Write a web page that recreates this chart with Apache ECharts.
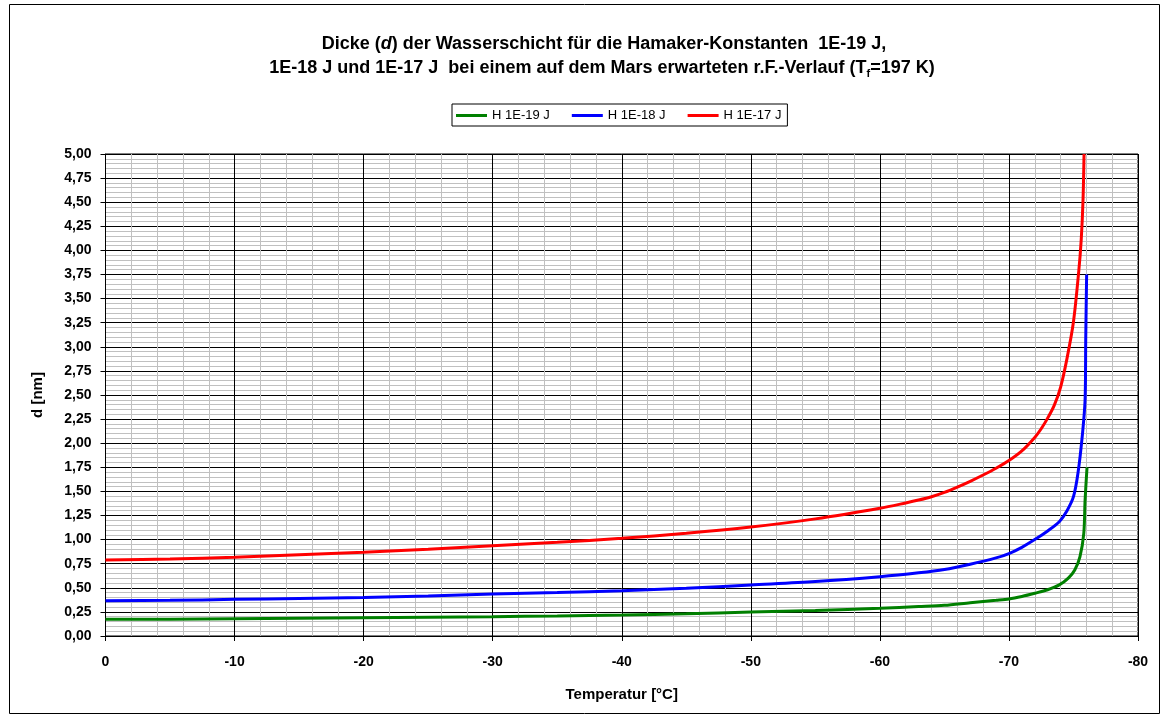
<!DOCTYPE html>
<html>
<head>
<meta charset="utf-8">
<script src="https://cdn.jsdelivr.net/npm/echarts@6/dist/echarts.min.js"></script>
<style>html,body{margin:0;padding:0;background:#fff;}#c{width:1164px;height:718px;}</style>
</head>
<body>
<div id="c"></div>
<script>
// ---- data ----
const seriesNames = ['H 1E-19 J', 'H 1E-18 J', 'H 1E-17 J'];
const tempGreen = [0,-5,-10,-15,-20,-25,-30,-35,-40,-45,-50,-55,-60,-63,-65,-67,-69,-70,-71,-72,-73,-73.9,-74.6,-75.1,-75.5,-75.8,-75.9,-76.05];
const dGreen    = [0.173,0.175,0.18,0.185,0.19,0.195,0.20,0.208,0.218,0.23,0.248,0.265,0.287,0.305,0.318,0.345,0.37,0.384,0.41,0.443,0.48,0.53,0.60,0.685,0.82,1.065,1.41,1.75];
const tempBlue  = [0,-5,-10,-15,-20,-25,-30,-35,-40,-45,-50,-55,-60,-63,-65,-67,-69,-70,-71,-72,-73,-73.9,-74.5,-75.0,-75.35,-75.7,-75.9,-75.95,-76.02];
const dBlue     = [0.365,0.37,0.38,0.39,0.40,0.415,0.435,0.45,0.47,0.495,0.53,0.565,0.615,0.655,0.69,0.745,0.81,0.855,0.92,1.0,1.09,1.186,1.30,1.445,1.69,2.1,2.45,3.07,3.75];
const tempRed   = [0,-5,-10,-15,-20,-25,-30,-35,-40,-45,-50,-55,-60,-62,-63,-64,-65,-66,-67,-68,-69,-70,-71,-72,-72.5,-73,-73.5,-74.0,-74.5,-75.0,-75.4,-75.6,-75.74,-75.82];
const dRed      = [0.788,0.80,0.816,0.843,0.87,0.90,0.935,0.972,1.013,1.065,1.13,1.215,1.325,1.38,1.41,1.445,1.49,1.545,1.605,1.67,1.74,1.82,1.92,2.06,2.15,2.26,2.39,2.58,2.88,3.26,3.77,4.11,4.52,5.0];
const xTicks = [0,-10,-20,-30,-40,-50,-60,-70,-80];
const colors = ['#008000', '#0000ff', '#ff0000'];

const zip = (xs, ys) => xs.map((x, i) => [x, ys[i]]);
const seriesData = [zip(tempGreen, dGreen), zip(tempBlue, dBlue), zip(tempRed, dRed)];

const chart = echarts.init(document.getElementById('c'), null, {renderer: 'canvas'});
const font = 'Arial, "Liberation Sans", sans-serif';
const rich = {
  a: {fontFamily: font, fontWeight: 'bold', fontSize: 18, color: '#000'},
  i: {fontFamily: font, fontWeight: 'bold', fontStyle: 'italic', fontSize: 18, color: '#000'},
  s: {fontFamily: font, fontWeight: 'bold', fontSize: 11, color: '#000', verticalAlign: 'bottom', padding: [10, 0, 0, 0]}
};
chart.setOption({
  animation: false,
  backgroundColor: '#fff',
  textStyle: {fontFamily: font},
  graphic: [{
    type: 'rect', shape: {x: 9.5, y: 4.5, width: 1150, height: 709},
    style: {fill: 'none', stroke: '#000', lineWidth: 1}, silent: true, z: -1
  }],
  title: [{
    left: 599, top: 30, textAlign: 'center',
    text: '{a|Dicke (}{i|d}{a|) der Wasserschicht für die Hamaker-Konstanten  1E-19 J,}',
    textStyle: {rich: rich}
  }, {
    left: 597, top: 53, textAlign: 'center',
    text: '{a|1E-18 J und 1E-17 J  bei einem auf dem Mars erwarteten r.F.-Verlauf (T}{s|f}{a|=197 K)}',
    textStyle: {rich: rich}
  }],
  legend: {
    top: 104, left: 452,
    data: seriesNames,
    icon: 'rect', itemWidth: 31, itemHeight: 3, itemGap: 22,
    borderColor: '#000', borderWidth: 1, padding: [5, 6, 4, 4],
    textStyle: {fontFamily: font, fontSize: 13, color: '#000'}
  },
  grid: {left: 105.5, right: 26, top: 154, bottom: 82, show: true, borderColor: '#000', borderWidth: 1, backgroundColor: 'transparent'},
  xAxis: {
    type: 'value', min: -80, max: 0, interval: 10, inverse: true,
    name: 'Temperatur [°C]', nameLocation: 'middle', nameGap: 51,
    nameTextStyle: {fontFamily: font, fontWeight: 'bold', fontSize: 15, color: '#000'},
    axisLine: {onZero: false, lineStyle: {color: '#000', width: 1}},
    axisTick: {show: true, length: 5, lineStyle: {color: '#000'}},
    axisLabel: {margin: 19, fontFamily: font, fontWeight: 'bold', fontSize: 14, color: '#000',
      formatter: v => (xTicks.indexOf(v) >= 0 ? String(v) : '')},
    splitLine: {show: true, lineStyle: {color: '#000', width: 1}},
    minorTick: {show: false, splitNumber: 5},
    minorSplitLine: {show: true, lineStyle: {color: '#c0c0c0', width: 1}}
  },
  yAxis: {
    type: 'value', min: 0, max: 5, interval: 0.25,
    name: 'd [nm]', nameLocation: 'middle', nameGap: 60, nameRotate: 90,
    nameTextStyle: {fontFamily: font, fontWeight: 'bold', fontSize: 15, color: '#000'},
    axisLine: {show: true, lineStyle: {color: '#000', width: 1}},
    axisTick: {show: true, length: 5, lineStyle: {color: '#000'}},
    axisLabel: {margin: 14, fontFamily: font, fontWeight: 'bold', fontSize: 14, color: '#000',
      formatter: v => v.toFixed(2).replace('.', ',')},
    splitLine: {show: true, lineStyle: {color: '#000', width: 1}},
    minorTick: {show: false, splitNumber: 5},
    minorSplitLine: {show: true, lineStyle: {color: '#c0c0c0', width: 1}}
  },
  series: seriesNames.map((n, i) => ({
    name: n, type: 'line', data: seriesData[i],
    showSymbol: false, symbol: 'none', smooth: 0.3,
    lineStyle: {color: colors[i], width: 3},
    itemStyle: {color: colors[i]},
    z: 3 + i
  }))
});
</script>
</body>
</html>
